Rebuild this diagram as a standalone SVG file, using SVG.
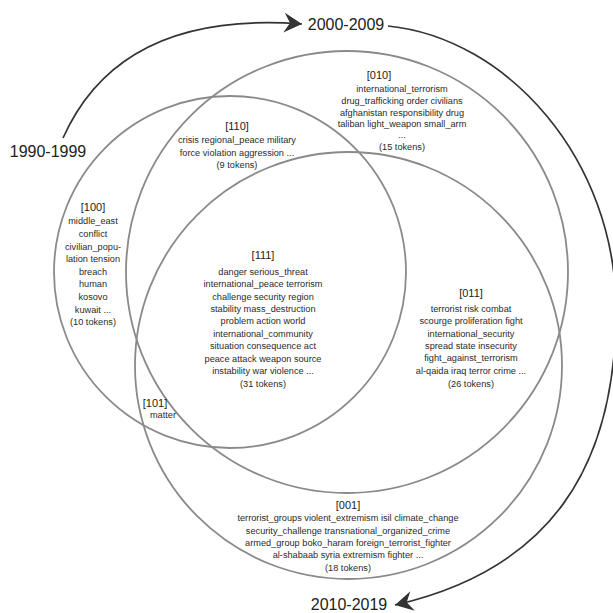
<svg xmlns="http://www.w3.org/2000/svg" width="613" height="613" viewBox="0 0 613 613">
<style>
.c{fill:none;stroke:#8a8a8a;stroke-width:1.8}
.a{fill:none;stroke:#333;stroke-width:1.7}
.t{font-family:"Liberation Sans",Arial,sans-serif;font-size:9.2px;fill:#2a2a2a;text-anchor:middle}
.l{font-family:"Liberation Sans",Arial,sans-serif;font-size:11px;fill:#222;text-anchor:middle}
.y{font-family:"Liberation Sans",Arial,sans-serif;font-size:16px;fill:#222;text-anchor:middle}
</style>
<defs>
<marker id="ah" markerUnits="userSpaceOnUse" markerWidth="24" markerHeight="24" viewBox="-20 -12 22 24" refX="0" refY="0" orient="auto">
<path d="M0,0 L-18,-10 L-12,0 L-18,10 Z" fill="#333"/>
</marker>
</defs>
<rect width="613" height="613" fill="#fff"/>
<g id="circle-1990s"><circle class="c" cx="230" cy="272" r="176"/></g>
<g id="circle-2000s"><circle class="c" cx="347" cy="272" r="221"/></g>
<g id="circle-2010s"><circle class="c" cx="348.5" cy="365.5" r="213.5"/></g>
<g id="connectors">
<path class="a" d="M63,138 Q120,10 302,24" marker-end="url(#ah)"/>
<path class="a" d="M388,26 C508,38 616,160 616,310 C616,470 548,570 395,605" marker-end="url(#ah)"/>
</g>
<g id="year-1990"><text class="y" x="48" y="157">1990-1999</text></g>
<g id="year-2000"><text class="y" x="346" y="30">2000-2009</text></g>
<g id="year-2010"><text class="y" x="349" y="610">2010-2019</text></g>
<g id="r010">
<text class="l" x="379" y="79">[010]</text>
<text class="t" x="402" y="92">international_terrorism</text>
<text class="t" x="402" y="104">drug_trafficking order civilians</text>
<text class="t" x="402" y="115.5">afghanistan responsibility drug</text>
<text class="t" x="402" y="127">taliban light_weapon small_arm</text>
<text class="t" x="402" y="138">...</text>
<text class="t" x="402" y="150">(15 tokens)</text>
</g>
<g id="r110">
<text class="l" x="237" y="130">[110]</text>
<text class="t" x="237" y="143">crisis regional_peace military</text>
<text class="t" x="237" y="156">force violation aggression ...</text>
<text class="t" x="237" y="168">(9 tokens)</text>
</g>
<g id="r100">
<text class="l" x="93" y="211">[100]</text>
<text class="t" x="93" y="224">middle_east</text>
<text class="t" x="93" y="237">conflict</text>
<text class="t" x="93" y="250">civilian_popu-</text>
<text class="t" x="93" y="262">lation tension</text>
<text class="t" x="93" y="275">breach</text>
<text class="t" x="93" y="287">human</text>
<text class="t" x="93" y="300">kosovo</text>
<text class="t" x="93" y="312.5">kuwait ...</text>
<text class="t" x="93" y="325">(10 tokens)</text>
</g>
<g id="r111">
<text class="l" x="263" y="259">[111]</text>
<text class="t" x="263" y="275">danger serious_threat</text>
<text class="t" x="263" y="287">international_peace terrorism</text>
<text class="t" x="263" y="300">challenge security region</text>
<text class="t" x="263" y="312">stability mass_destruction</text>
<text class="t" x="263" y="324">problem action world</text>
<text class="t" x="263" y="336.5">international_community</text>
<text class="t" x="263" y="349">situation consequence act</text>
<text class="t" x="263" y="362">peace attack weapon source</text>
<text class="t" x="263" y="374">instability war violence ...</text>
<text class="t" x="263" y="387">(31 tokens)</text>
</g>
<g id="r011">
<text class="l" x="471" y="297">[011]</text>
<text class="t" x="471" y="312">terrorist risk combat</text>
<text class="t" x="471" y="324">scourge proliferation fight</text>
<text class="t" x="471" y="336.5">international_security</text>
<text class="t" x="471" y="349">spread state insecurity</text>
<text class="t" x="471" y="361">fight_against_terrorism</text>
<text class="t" x="471" y="374">al-qaida iraq terror crime ...</text>
<text class="t" x="471" y="387">(26 tokens)</text>
</g>
<g id="r101">
<text class="l" x="155" y="407">[101]</text>
<text class="t" x="163" y="418">matter</text>
</g>
<g id="r001">
<text class="l" x="348" y="509">[001]</text>
<text class="t" x="348" y="521">terrorist_groups violent_extremism isil climate_change</text>
<text class="t" x="348" y="533.5">security_challenge transnational_organized_crime</text>
<text class="t" x="348" y="546">armed_group boko_haram foreign_terrorist_fighter</text>
<text class="t" x="348" y="558">al-shabaab syria extremism fighter ...</text>
<text class="t" x="348" y="571">(18 tokens)</text>
</g>
</svg>
